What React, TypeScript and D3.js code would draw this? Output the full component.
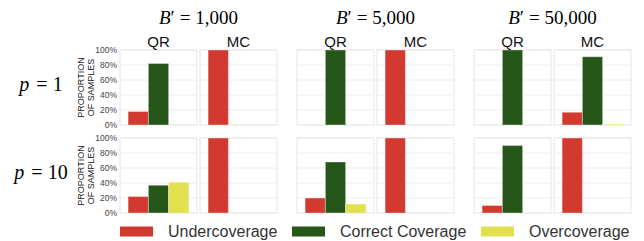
import React from 'react';
import * as d3 from 'd3';

// coverage categories, in bar order
const categories = ['Undercoverage', 'Correct Coverage', 'Overcoverage'];
const colors = ['#d23a30', '#26561a', '#e2e04e'];
const methods = ['QR', 'MC'];
const budgets = ['1,000', '5,000', '50,000'];
const dims = ['1', '10'];

// proportions per budget: [under, correct, over]
const p1QR = [[0.18, 0.82, 0], [0, 1, 0], [0, 1, 0]];
const p1MC = [[1, 0, 0], [1, 0, 0], [0.17, 0.91, 0.01]];
const p10QR = [[0.22, 0.37, 0.41], [0.2, 0.68, 0.12], [0.1, 0.9, 0]];
const p10MC = [[1, 0, 0], [1, 0, 0], [1, 0, 0]];

const yTicks = [0, 0.2, 0.4, 0.6, 0.8, 1];

const values = [
  [p1QR, p1MC],
  [p10QR, p10MC],
];

const W = 644;
const H = 241;
const panelW = 77;
const panelH = 75;
const groupX = [120, 297, 474];
const methodOffset = 80;
const rowTop = [50, 138];

const sans = '"Liberation Sans", Arial, sans-serif';
const serif = '"Liberation Serif", "Times New Roman", serif';

const App = () => {
  const pct = d3.format('.0%');

  const panels = [];
  dims.forEach((p, r) => {
    const y = d3.scaleLinear().domain([0, 1]).range([rowTop[r] + panelH, rowTop[r]]);
    budgets.forEach((b, bi) => {
      methods.forEach((m, mi) => {
        const x0 = groupX[bi] + mi * methodOffset;
        const x = d3.scaleBand()
          .domain(categories)
          .range([x0, x0 + panelW])
          .paddingInner(0)
          .paddingOuter(0.4);
        const vals = values[r][mi][bi];
        panels.push(
          <g key={`${r}-${bi}-${mi}`}>
            <rect x={x0} y={rowTop[r]} width={panelW} height={panelH}
              fill="#fff" stroke="#e6e6e6" strokeWidth={1} />
            {yTicks.map(t => (
              <line key={t} x1={x0} x2={x0 + panelW} y1={y(t)} y2={y(t)}
                stroke="#ececec" strokeWidth={1} />
            ))}
            {categories.map((c, ci) => vals[ci] > 0 ? (
              <rect key={c}
                x={x(c)} y={y(vals[ci])}
                width={x.bandwidth()} height={y(0) - y(vals[ci])}
                fill={colors[ci]} stroke="rgba(255,255,255,0.35)" strokeWidth={1} />
            ) : null)}
            {r === 0 && (
              <text x={x0 + panelW / 2} y={rowTop[0] - 3} textAnchor="middle"
                fontFamily={sans} fontSize={15} fill="#111">{m}</text>
            )}
            {bi === 0 && mi === 0 && yTicks.map(t => (
              <text key={'l' + t} x={x0 - 3} y={y(t)} dy="0.35em" textAnchor="end"
                fontFamily={sans} fontSize={8.5} fill="#444">{pct(t)}</text>
            ))}
          </g>
        );
      });
    });
  });

  return (
    <svg width={W} height={H} style={{ position: 'absolute', left: 0, top: 0, background: '#fff' }}>
      {budgets.map((b, bi) => (
        <text key={b} x={groupX[bi] + (panelW + methodOffset) / 2} y={24} textAnchor="middle"
          fontFamily={serif} fontSize={19} fill="#000">
          <tspan fontStyle="italic">B</tspan>
          <tspan>′</tspan>
          <tspan dx={5}>=</tspan>
          <tspan dx={5}>{b}</tspan>
        </text>
      ))}
      {dims.map((p, r) => (
        <g key={p}>
          <text x={41} y={rowTop[r] + 41} textAnchor="middle"
            fontFamily={serif} fontSize={20} fill="#000">
            <tspan fontStyle="italic">p</tspan>
            <tspan dx={7}>=</tspan>
            <tspan dx={5}>{p}</tspan>
          </text>
          <text transform={`translate(80.5,${rowTop[r] + panelH / 2}) rotate(-90)`}
            textAnchor="middle" fontFamily={sans} fontSize={9} fill="#222">
            <tspan x={0} dy="0.35em">PROPORTION</tspan>
            <tspan x={0} dy="1.1em">OF SAMPLES</tspan>
          </text>
        </g>
      ))}
      {panels}
      {categories.map((c, ci) => {
        const lx = [120, 292, 481][ci];
        return (
          <g key={c}>
            <rect x={lx} y={226.5} width={33} height={10} fill={colors[ci]} />
            <text x={lx + 48} y={231.5} dy="0.36em" fontFamily={sans} fontSize={16} fill="#333">{c}</text>
          </g>
        );
      })}
    </svg>
  );
};

export default App;
